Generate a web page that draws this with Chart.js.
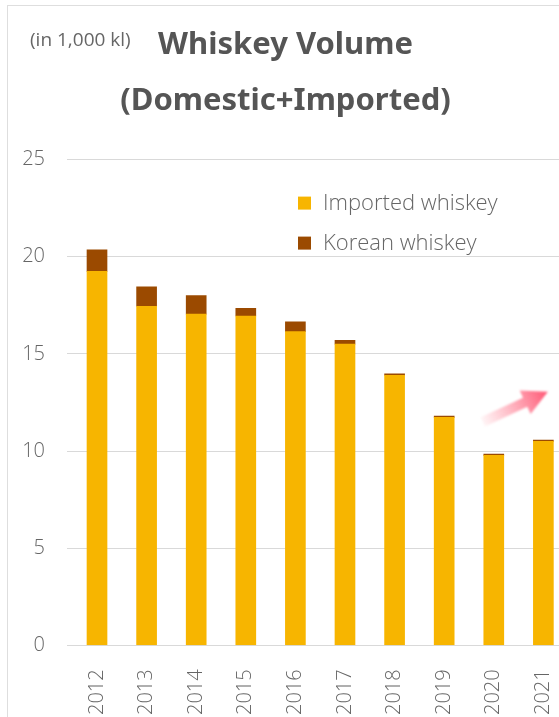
<!DOCTYPE html>
<html>
<head>
<meta charset="utf-8">
<script src="https://cdn.jsdelivr.net/npm/chart.js@4/dist/chart.umd.min.js"></script>
<style>
  html, body { margin: 0; padding: 0; background: #fff; overflow: hidden; }
  #wrap { position: relative; width: 559px; height: 717px; }
  #frame { position: absolute; left: 7px; top: 5px; right: -2px; bottom: -2px;
           border-top: 1px solid #dedede; border-left: 1px solid #dedede; pointer-events: none; }
  canvas { display: block; }
</style>
</head>
<body>
<div id="wrap">
  <canvas id="chart" width="559" height="717"></canvas>
  <div id="frame"></div>
</div>
<script>
// Whiskey volume by year, in thousand kilolitres
const years = [2012, 2013, 2014, 2015, 2016, 2017, 2018, 2019, 2020, 2021];
const importedWhiskey = [19.25, 17.45, 17.05, 16.95, 16.15, 15.5, 13.9, 11.73, 9.78, 10.5];
const koreanWhiskey = [1.1, 1.0, 0.95, 0.4, 0.5, 0.2, 0.07, 0.07, 0.07, 0.07];
const seriesNames = ['Imported whiskey', 'Korean whiskey'];
const titleLines = ['Whiskey Volume', '(Domestic+Imported)'];
const unitLabel = '(in 1,000 kl)';
// upward trend arrow, in data coordinates [year, volume]
const trendFrom = [2019.78, 11.5];
const trendTo = [2021.09, 13.05];

const COLORS = { imported: '#F7B500', korean: '#9B4A00', text: '#666666', title: '#555555', grid: '#d9d9d9' };
const FAMILY = "'Open Sans', 'Noto Sans', sans-serif";
const Y_FONT = { family: FAMILY, size: 20, weight: '300' };
const X_FONT = { family: FAMILY, size: 20, weight: '300' };
const LEGEND_FONT = `300 22px ${FAMILY}`;

const overlay = {
  id: 'overlay',
  afterDatasetsDraw(chart) {
    const { ctx, scales } = chart;
    // trend arrow
    const x0 = scales.x.getPixelForValue(trendFrom[0]);
    const y0 = scales.y.getPixelForValue(trendFrom[1]);
    const x1 = scales.x.getPixelForValue(trendTo[0]);
    const y1 = scales.y.getPixelForValue(trendTo[1]);
    const len = Math.hypot(x1 - x0, y1 - y0);
    const ang = Math.atan2(y1 - y0, x1 - x0);
    const headLen = 25, headW = 13, shaftW = 5;
    ctx.save();
    ctx.translate(x0, y0);
    ctx.rotate(ang);
    const g = ctx.createLinearGradient(0, 0, len, 0);
    g.addColorStop(0, 'rgba(255,120,140,0.08)');
    g.addColorStop(0.55, 'rgba(255,105,130,0.6)');
    g.addColorStop(1, 'rgba(255,85,115,1)');
    ctx.fillStyle = g;
    ctx.filter = 'blur(0.8px)';
    ctx.beginPath();
    ctx.moveTo(0, -shaftW);
    ctx.lineTo(len - headLen, -shaftW);
    ctx.lineTo(len - headLen, -headW);
    ctx.lineTo(len, 0);
    ctx.lineTo(len - headLen, headW);
    ctx.lineTo(len - headLen, shaftW);
    ctx.lineTo(0, shaftW);
    ctx.closePath();
    ctx.fill();
    ctx.restore();
  },
  afterDraw(chart) {
    const { ctx, chartArea } = chart;
    ctx.save();
    // unit note
    ctx.fillStyle = COLORS.text;
    ctx.font = "19px 'Liberation Sans Narrow', 'Open Sans', sans-serif";
    ctx.textBaseline = 'middle';
    ctx.textAlign = 'left';
    ctx.fillText(unitLabel, 30, 41);
    // legend inside the plot
    const lx = chartArea.left + 231;
    const rows = [chartArea.top + 44, chartArea.top + 84];
    ctx.font = LEGEND_FONT;
    chart.data.datasets.forEach((ds, i) => {
      ctx.fillStyle = ds.backgroundColor;
      ctx.fillRect(lx, rows[i] - 7, 13, 13);
      ctx.fillStyle = COLORS.text;
      ctx.fillText(ds.label, lx + 25, rows[i]);
    });
    ctx.restore();
  }
};

new Chart(document.getElementById('chart'), {
  type: 'bar',
  data: {
    datasets: [
      { label: seriesNames[0], data: years.map((yr, i) => ({ x: yr, y: importedWhiskey[i] })),
        backgroundColor: COLORS.imported, barThickness: 20, stack: 'total' },
      { label: seriesNames[1], data: years.map((yr, i) => ({ x: yr, y: koreanWhiskey[i] })),
        backgroundColor: COLORS.korean, barThickness: 20, stack: 'total' }
    ]
  },
  options: {
    responsive: false,
    animation: false,
    devicePixelRatio: 1,
    layout: { padding: { left: 12, right: 0, top: 0, bottom: -14 } },
    plugins: {
      legend: { display: false },
      tooltip: { enabled: false },
      title: {
        display: true,
        text: titleLines,
        color: COLORS.title,
        font: { family: "'Noto Sans', 'Open Sans', sans-serif", size: 31, weight: 'bold', lineHeight: 1.8 },
        padding: { top: 17, bottom: 31 }
      }
    },
    scales: {
      x: {
        type: 'linear',
        offset: false,
        stacked: true,
        min: 2011.395,
        max: 2021.315,
        grid: { display: false },
        border: { display: false },
        afterBuildTicks: s => { s.ticks = years.map(v => ({ value: v })); },
        afterFit: s => { s.paddingLeft = 0; s.paddingRight = 0; },
        ticks: {
          autoSkip: false, minRotation: 90, maxRotation: 90, padding: 16,
          color: COLORS.text, font: X_FONT,
          callback: v => String(v)
        }
      },
      y: {
        stacked: true,
        min: 0,
        max: 25,
        grid: { color: COLORS.grid, drawTicks: false },
        border: { display: false },
        afterFit: s => { s.width = 55; },
        ticks: { stepSize: 5, padding: 22, color: COLORS.text, font: Y_FONT }
      }
    }
  },
  plugins: [overlay]
});
</script>
</body>
</html>
